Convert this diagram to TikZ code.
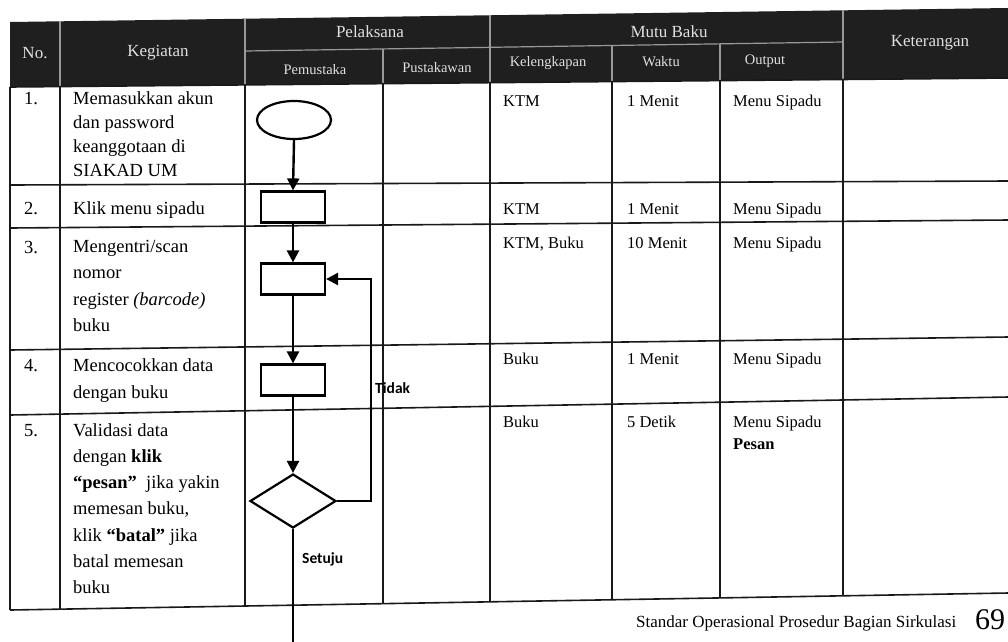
\documentclass[tikz,border=0pt]{standalone}
\usepackage{fontspec}
\setmainfont{Liberation Serif}
\newfontfamily\lblfont{Carlito}
\usetikzlibrary{shapes.geometric,arrows.meta,calc}
\begin{document}
\begin{tikzpicture}[x=1pt,y=-1pt,
  hdrtxt/.style={text=white!88!black, font=\fontsize{17}{20}\selectfont, inner sep=0},
  subtxt/.style={text=white!88!black, font=\fontsize{14.5}{17}\selectfont, inner sep=0},
  keg/.style={anchor=north west, inner sep=0, align=left, font=\fontsize{18.5}{24}\selectfont},
  cell/.style={anchor=north west, inner sep=0, align=left, font=\fontsize{16.5}{21.7}\selectfont},
  grid/.style={line width=1.6pt, black!90},
  hgrid/.style={line width=1.2pt, white!60!black},
  box/.style={draw, line width=2.2pt, fill=white, minimum width=64pt, minimum height=31pt, inner sep=0},
  flow/.style={line width=2.4pt},
  arr/.style={flow, -{Triangle[length=12pt,width=12pt]}},
  lbl/.style={font=\lblfont\bfseries\fontsize{15.5}{18}\selectfont, inner sep=0}
]
\useasboundingbox (0,0) rectangle (1008,641);

% header band
\fill[black!88] (10,22) -- (1008,8) -- (1008,78) -- (10,87) -- cycle;
\draw[hgrid] (60,21.3) -- (60,86.5);
\draw[hgrid] (245,18.7) -- (245,84.9);
\draw[hgrid] (490,15.3) -- (490,82.7);
\draw[hgrid] (843,10.3) -- (843,79.5);
\draw[hgrid] (383,48.9) -- (383,83.6);
\draw[hgrid] (612,45.5) -- (612,81.6);
\draw[hgrid] (720,43.6) -- (720,80.6);
\draw[hgrid] (245,51) -- (843,42);

% header texts
\node[hdrtxt] (hNo) at (35,53) {No.};
\node[hdrtxt] (hKeg) at (158,53) {Kegiatan};
\node[hdrtxt] (hPel) at (370,32) {Pelaksana};
\node[hdrtxt] (hMutu) at (669,32) {Mutu Baku};
\node[hdrtxt] (hKet) at (930,43) {Keterangan};
\node[subtxt] (hPem) at (315,70) {Pemustaka};
\node[subtxt] (hPus) at (437,68) {Pustakawan};
\node[subtxt] (hKel) at (548,63) {Kelengkapan};
\node[subtxt] (hWak) at (661,62) {Waktu};
\node[subtxt] (hOut) at (765,61) {Output};

% table body grid
\draw[grid] (10,87) -- (1008,78);
\draw[grid] (10,185) -- (1008,181);
\draw[grid] (10,228) -- (1008,220);
\draw[grid] (10,350) -- (1008,337);
\draw[grid] (10,415) -- (1008,397);
\draw[grid] (10,610) -- (1008,593);
\draw[grid] (10,87) -- (10,610);
\draw[grid] (60,86.5) -- (60,609.1);
\draw[grid] (245,84.9) -- (245,606.0);
\draw[grid] (383,83.6) -- (383,603.6);
\draw[grid] (490,82.7) -- (490,601.8);
\draw[grid] (612,81.6) -- (612,599.7);
\draw[grid] (720,80.6) -- (720,597.9);
\draw[grid] (843,79.5) -- (843,595.8);

% row 1
\node[keg] (n1) at (24,92) {1.};
\node[keg] (k1) at (73,91) {Memasukkan akun\\dan password\\keanggotaan di\\SIAKAD UM};
\node[cell] (l1) at (503,95) {KTM};
\node[cell] (w1) at (627,95) {1 Menit};
\node[cell] (o1) at (733,95) {Menu Sipadu};
% row 2
\node[keg] (n2) at (24,202) {2.};
\node[keg] (k2) at (73,201) {Klik menu sipadu};
\node[cell] (l2) at (503,203) {KTM};
\node[cell] (w2) at (627,203) {1 Menit};
\node[cell] (o2) at (733,203) {Menu Sipadu};
% row 3
\node[keg] (n3) at (24,241) {3.};
\node[keg, font=\fontsize{18.5}{26.5}\selectfont] (k3) at (73,240) {Mengentri/scan\\nomor\\register \textit{(barcode)}\\buku};
\node[cell] (l3) at (503,237) {KTM, Buku};
\node[cell] (w3) at (627,237) {10 Menit};
\node[cell] (o3) at (733,237) {Menu Sipadu};
% row 4
\node[keg] (n4) at (24,359) {4.};
\node[keg, font=\fontsize{18.5}{27}\selectfont] (k4) at (73,358) {Mencocokkan data\\dengan buku};
\node[cell] (l4) at (503,353) {Buku};
\node[cell] (w4) at (627,353) {1 Menit};
\node[cell] (o4) at (733,353) {Menu Sipadu};
% row 5
\node[keg] (n5) at (24,424) {5.};
\node[keg, font=\fontsize{18.5}{26.3}\selectfont] (k5) at (73,423) {Validasi data\\dengan \textbf{klik}\\\textbf{“pesan”}\ \ jika yakin\\memesan buku,\\klik \textbf{“batal”} jika\\batal memesan\\buku};
\node[cell] (l5) at (503,416) {Buku};
\node[cell] (w5) at (627,416) {5 Detik};
\node[cell] (o5) at (733,416) {Menu Sipadu\\\textbf{Pesan}};

% flowchart
\node[ellipse, draw, line width=2.2pt, fill=white, minimum width=74pt, minimum height=38pt, inner sep=0] (e) at (294,120) {};
\node[box] (r1) at (293,207) {};
\node[box] (r2) at (293,279) {};
\node[box] (r3) at (293,380) {};
\node[diamond, draw, line width=2.2pt, fill=white, minimum width=86pt, minimum height=54pt, inner sep=0] (d) at (293,501) {};
\coordinate (endpt) at (293,650);

\draw[arr] (e.south) -- (r1.north);
\draw[arr] (r1.south) -- (r2.north);
\draw[arr] (r2.south) -- (r3.north);
\draw[arr] (r3.south) -- (d.north);
\draw[arr] (d.east) -| ([xshift=45pt]r2.east) -- (r2.east);
\draw[flow] (d.south) -- (endpt);

\node[lbl, anchor=west] (tidak) at (375,388) {Tidak};
\node[lbl, anchor=west] (setuju) at (302,559) {Setuju};

% footer
\node[anchor=base west, inner sep=0, font=\fontsize{17}{21}\selectfont] (foot) at (636,627) {Standar Operasional Prosedur Bagian Sirkulasi};
\node[anchor=base west, inner sep=0, font=\fontsize{30}{33}\selectfont] (page) at (975,629) {69};
\end{tikzpicture}
\end{document}
